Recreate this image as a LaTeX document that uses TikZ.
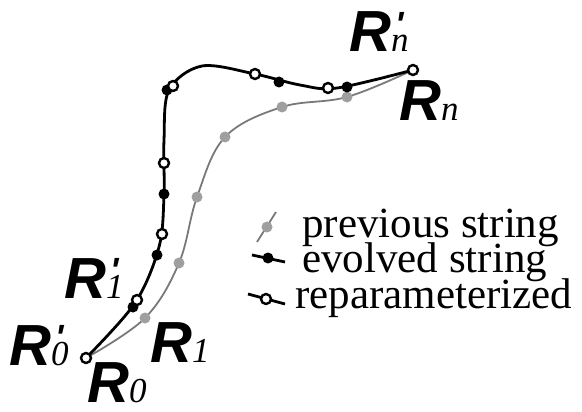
\documentclass[tikz,border=0pt]{standalone}
\usepackage{fontspec}
\setmainfont{Liberation Serif}
\newfontfamily\labfont{Liberation Sans}
\usetikzlibrary{positioning}

% big R with a serif subscript, primed or not
\newcommand{\Rsym}[1]{{\labfont\bfseries\itshape\fontsize{58}{58}\selectfont R}%
  {\fontsize{35}{35}\selectfont\itshape #1}}
\newcommand{\Rpsym}[1]{{\labfont\bfseries\itshape\fontsize{58}{58}\selectfont R}%
  {\fontsize{35}{35}\selectfont\itshape\setbox0\hbox{#1}%
   \rlap{\hbox to\wd0{\hss\raisebox{.45em}{\labfont\bfseries '}\hss}}\box0}}

\begin{document}
\begin{tikzpicture}[x=1pt, y=-1pt,
    prevline/.style={gray!95!black, line width=1.8pt},
    evline/.style={black, line width=2.8pt},
    prevdot/.style={circle, fill=gray!75, inner sep=0pt, minimum size=11pt},
    evdot/.style={circle, fill=black, inner sep=0pt, minimum size=11pt},
    repdot/.style={circle, draw=black, fill=white, line width=2.4pt, inner sep=0pt, minimum size=10pt},
    lab/.style={anchor=base west, inner sep=0pt},
    legtext/.style={anchor=base west, inner sep=0pt, font=\fontsize{43}{43}\selectfont}]

    \useasboundingbox (0,0) rectangle (582,412);

    % PREVIOUS STRING
    \draw[prevline] plot[smooth, tension=0.6] coordinates
        {(86,358) (145,318) (179,263) (197,197) (225,137) (282,107) (347,97) (413,70)};
    \foreach \p [count=\i] in {(145,318), (179,263), (197,197), (225,137), (282,107), (347,97)}
        \node[prevdot] (p\i) at \p {};

    % EVOLVED STRING
    \draw[evline] plot[smooth, tension=0.55] coordinates
        {(86,358) (135,303) (159,247) (164,195) (164,140) (169,90) (202,66)
         (255,74) (300,85) (337,88) (413,70)};
    \foreach \p [count=\i] in {(133,307), (157,255), (164,194), (167,90), (279,82), (347,87)}
        \node[evdot] (e\i) at \p {};

    % REPARAMETERIZED POINTS
    \foreach \p [count=\i] in {(86,358), (137,300), (162,234), (164,163), (173,86),
                               (255,74), (328,88), (413,70)}
        \node[repdot] (r\i) at \p {};

    % LABELS
    \node[lab] (lRnp) at (349,52) {\Rpsym{n}};
    \node[lab] (lRn) at (399,121) {\Rsym{n}};
    \node[lab] (lR1p) at (64,298) {\Rpsym{1}};
    \node[lab] (lR0p) at (9,365) {\Rpsym{0}};
    \node[lab] (lR1) at (150,362) {\Rsym{1}};
    \node[lab] (lR0) at (87,402) {\Rsym{0}};

    % LEGEND
    \coordinate (ga) at (257,242);
    \coordinate (gb) at (276,212);
    \draw[prevline] (ga) -- (gb);
    \node[prevdot] (gd) at (267,227) {};
    \node[legtext] (tprev) at (302,237) {previous string};

    \coordinate (ea) at (252,255);
    \coordinate (eb) at (285,262);
    \draw[evline] (ea) -- (eb);
    \node[evdot] (ed) at (268,258) {};
    \node[legtext] (tev) at (302,272) {evolved string};

    \coordinate (ra) at (248,294);
    \coordinate (rb) at (285,304);
    \draw[evline] (ra) -- (rb);
    \node[repdot] (rd) at (266,299) {};
    \node[legtext] (trep) at (295,308) {reparameterized};

\end{tikzpicture}
\end{document}
